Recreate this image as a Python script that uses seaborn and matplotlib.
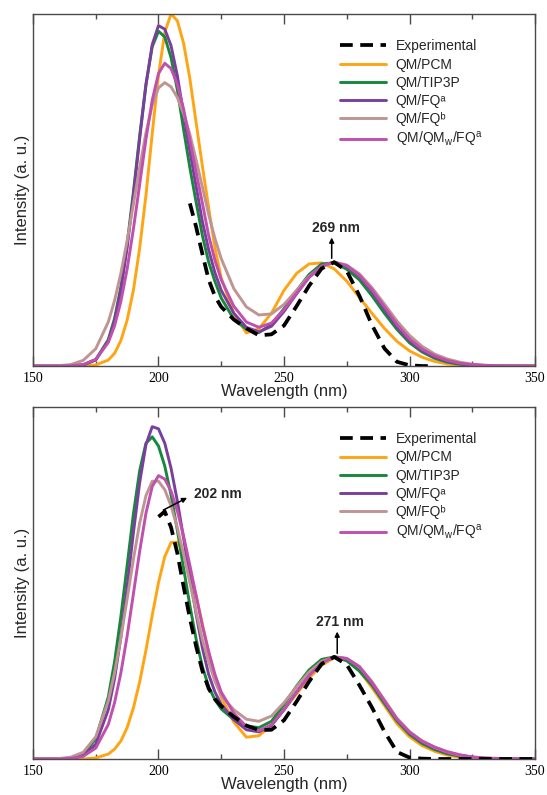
import numpy as np
import pandas as pd
import matplotlib
matplotlib.use("Agg")
import matplotlib.pyplot as plt
import seaborn as sns

# Wavelength grid (nm) shared by all spectra
wavelength = [150, 160, 165, 170, 175, 180, 182.5, 185, 187.5, 190, 192.5, 195,
              197.5, 200, 202.5, 205, 207.5, 210, 212.5, 215, 217.5, 220, 222.5,
              225, 230, 235, 240, 245, 250, 255, 260, 265, 270, 275, 280, 285,
              290, 295, 300, 305, 310, 315, 320, 325, 330, 340, 350]

nan = np.nan

# ---- upper panel ----
top_exp = [nan, nan, nan, nan, nan, nan, nan, nan, nan, nan, nan, nan,
           nan, nan, nan, nan, nan, nan, 0.462, 0.395, 0.318, 0.245, 0.198,
           0.168, 0.132, 0.107, 0.087, 0.090, 0.115, 0.170, 0.228, 0.277, 0.295, 0.270, 0.200, 0.117,
           0.050, 0.012, 0.002, 0.0, 0.0, nan, nan, nan, nan, nan, nan]
top_pcm = [0, 0, 0, 0, 0.003, 0.017, 0.036, 0.072, 0.130, 0.215, 0.335, 0.485,
           0.660, 0.826, 0.948, 1.000, 0.981, 0.917, 0.816, 0.691, 0.567, 0.449, 0.335,
           0.250, 0.150, 0.094, 0.106, 0.150, 0.215, 0.263, 0.290, 0.293, 0.276, 0.241, 0.195, 0.150,
           0.107, 0.070, 0.043, 0.025, 0.013, 0.006, 0.003, 0.001, 0, 0, 0]
top_tip3p = [0, 0, 0.0005, 0.003, 0.018, 0.075, 0.135, 0.224, 0.346, 0.494, 0.654, 0.800,
             0.907, 0.951, 0.935, 0.876, 0.785, 0.672, 0.563, 0.465, 0.370, 0.295, 0.240,
             0.193, 0.133, 0.105, 0.095, 0.118, 0.163, 0.214, 0.260, 0.290, 0.293, 0.275, 0.245, 0.200,
             0.150, 0.104, 0.066, 0.040, 0.022, 0.011, 0.005, 0.002, 0, 0, 0]
top_fqa = [0, 0, 0.0005, 0.003, 0.017, 0.071, 0.128, 0.216, 0.336, 0.484, 0.646, 0.798,
           0.913, 0.967, 0.957, 0.910, 0.825, 0.715, 0.610, 0.510, 0.410, 0.330, 0.265,
           0.215, 0.150, 0.110, 0.097, 0.113, 0.155, 0.205, 0.252, 0.284, 0.295, 0.283, 0.255, 0.212,
           0.162, 0.112, 0.072, 0.044, 0.026, 0.014, 0.007, 0.003, 0.001, 0, 0]
top_fqb = [0, 0.001, 0.004, 0.016, 0.049, 0.125, 0.186, 0.263, 0.356, 0.459, 0.564, 0.662,
           0.741, 0.790, 0.805, 0.793, 0.763, 0.717, 0.658, 0.585, 0.508, 0.430, 0.362,
           0.305, 0.220, 0.168, 0.145, 0.148, 0.175, 0.215, 0.255, 0.283, 0.295, 0.287, 0.262, 0.223,
           0.176, 0.128, 0.087, 0.056, 0.034, 0.020, 0.011, 0.005, 0.002, 0, 0]
top_qmw = [0, 0, 0.001, 0.004, 0.019, 0.067, 0.114, 0.183, 0.275, 0.389, 0.516, 0.644,
           0.755, 0.831, 0.860, 0.845, 0.800, 0.730, 0.641, 0.550, 0.462, 0.370, 0.300,
           0.245, 0.170, 0.125, 0.110, 0.122, 0.160, 0.207, 0.252, 0.284, 0.295, 0.285, 0.258, 0.217,
           0.168, 0.118, 0.077, 0.048, 0.029, 0.016, 0.008, 0.004, 0.002, 0, 0]

# ---- lower panel ----
bot_exp = [nan, nan, nan, nan, nan, nan, nan, nan, nan, nan, nan, nan,
           nan, 0.688, 0.703, 0.658, 0.585, 0.490, 0.400, 0.320, 0.250, 0.200, 0.170,
           0.150, 0.120, 0.095, 0.082, 0.083, 0.110, 0.163, 0.220, 0.270, 0.290, 0.268, 0.210, 0.147,
           0.078, 0.020, 0.004, 0.001, 0.0, 0.0, 0.0, 0.0, 0.0, 0.0, 0.0]
bot_pcm = [0, 0, 0, 0, 0.003, 0.014, 0.028, 0.051, 0.089, 0.145, 0.219, 0.309,
           0.408, 0.501, 0.575, 0.615, 0.616, 0.587, 0.534, 0.463, 0.383, 0.302, 0.235,
           0.175, 0.105, 0.062, 0.066, 0.097, 0.140, 0.185, 0.230, 0.266, 0.288, 0.283, 0.251, 0.203,
           0.152, 0.100, 0.063, 0.038, 0.022, 0.011, 0.005, 0.002, 0.001, 0, 0]
bot_tip3p = [0, 0, 0.0026, 0.014, 0.057, 0.176, 0.276, 0.404, 0.549, 0.696, 0.819, 0.897,
             0.915, 0.889, 0.832, 0.750, 0.650, 0.542, 0.436, 0.340, 0.262, 0.205, 0.168,
             0.142, 0.112, 0.094, 0.089, 0.107, 0.155, 0.207, 0.253, 0.283, 0.290, 0.279, 0.250, 0.210,
             0.158, 0.108, 0.070, 0.044, 0.027, 0.015, 0.008, 0.004, 0.001, 0, 0]
bot_fqa = [0, 0, 0.0015, 0.0095, 0.042, 0.140, 0.228, 0.346, 0.489, 0.642, 0.785, 0.893,
           0.944, 0.938, 0.897, 0.826, 0.733, 0.627, 0.517, 0.411, 0.315, 0.240, 0.190,
           0.155, 0.112, 0.083, 0.077, 0.095, 0.140, 0.190, 0.238, 0.274, 0.290, 0.285, 0.262, 0.215,
           0.163, 0.112, 0.074, 0.048, 0.031, 0.018, 0.010, 0.005, 0.002, 0, 0]
bot_fqb = [0, 0.001, 0.005, 0.019, 0.063, 0.165, 0.245, 0.343, 0.454, 0.567, 0.670, 0.748,
           0.789, 0.789, 0.765, 0.719, 0.657, 0.582, 0.501, 0.418, 0.339, 0.275, 0.220,
           0.180, 0.140, 0.113, 0.107, 0.122, 0.160, 0.205, 0.247, 0.277, 0.290, 0.286, 0.263, 0.220,
           0.168, 0.116, 0.078, 0.051, 0.033, 0.020, 0.011, 0.005, 0.002, 0, 0]
bot_qmw = [0, 0, 0.0015, 0.0075, 0.031, 0.098, 0.160, 0.244, 0.349, 0.469, 0.590, 0.698,
           0.774, 0.805, 0.795, 0.761, 0.705, 0.633, 0.550, 0.464, 0.378, 0.305, 0.240,
           0.190, 0.130, 0.092, 0.080, 0.097, 0.140, 0.190, 0.237, 0.273, 0.290, 0.285, 0.262, 0.218,
           0.165, 0.113, 0.076, 0.051, 0.034, 0.021, 0.012, 0.006, 0.003, 0.0005, 0]

labels = ["QM/PCM", "QM/TIP3P", "QM/FQ\u1d43", "QM/FQ\u1d47", r"QM/QM$_{w}$/FQ$^{a}$"]
colors = ["#ffa514", "#16883c", "#7a3f9c", "#bf9593", "#c04fae"]

sns.set_style("ticks")
plt.rcParams["font.family"] = ["Liberation Sans", "DejaVu Sans"]
plt.rcParams["mathtext.fontset"] = "custom"
plt.rcParams["mathtext.rm"] = "Liberation Sans"
plt.rcParams["mathtext.it"] = "Liberation Sans:italic"
plt.rcParams["mathtext.default"] = "rm"

fig = plt.figure(figsize=(5.47, 7.95), dpi=100)
ax_top = fig.add_axes([0.0603, 0.5396, 0.9178, 0.4428])
ax_bot = fig.add_axes([0.0603, 0.0453, 0.9178, 0.4428])

frame_color = "#4a4a4a"


def draw_panel(ax, exp_vals, calc_sets, notes):
    exp_df = pd.DataFrame({"wl": wavelength, "I": exp_vals}).dropna()
    sns.lineplot(data=exp_df, x="wl", y="I", ax=ax, color="black", lw=2.7,
                 linestyle=(0, (3.4, 2.0)), label="Experimental", legend=False,
                 errorbar=None, zorder=4)
    for vals, lab, col in zip(calc_sets, labels, colors):
        df = pd.DataFrame({"wl": wavelength, "I": vals})
        sns.lineplot(data=df, x="wl", y="I", ax=ax, color=col, lw=2.1,
                     label=lab, legend=False, errorbar=None)

    ax.set_xlim(150, 350)
    ax.set_ylim(0, 1.0)
    ax.set_xticks([150, 200, 250, 300, 350])
    ax.set_xticks([175, 225, 275, 325], minor=True)
    ax.set_yticks([])
    ax.tick_params(axis="x", which="both", direction="in", top=True, bottom=True,
                   colors=frame_color, width=1.0, pad=4.5,
                   labelsize=10, labelcolor="black",
                   labelfontfamily="Liberation Serif")
    ax.tick_params(axis="x", which="major", length=7)
    ax.tick_params(axis="x", which="minor", length=3.6)
    for sp in ax.spines.values():
        sp.set_visible(True)
        sp.set_color(frame_color)
        sp.set_linewidth(1.0)
    ax.set_xlabel("Wavelength (nm)", fontsize=12, labelpad=-1)
    ax.set_ylabel("Intensity (a. u.)", fontsize=12, labelpad=2)

    ax.legend(loc="upper left", bbox_to_anchor=(0.612, 0.928), frameon=False,
              fontsize=10, handlelength=3.3, handletextpad=0.7,
              labelspacing=0.3, borderaxespad=0, borderpad=0)

    for text, tx, ty, ax0, ay0, ax1, ay1, ha in notes:
        ax.annotate("", xy=(ax1, ay1), xytext=(ax0, ay0),
                    arrowprops=dict(arrowstyle="-|>", color="black", lw=1.1,
                                    mutation_scale=7, shrinkA=0, shrinkB=0))
        ax.text(tx, ty, text, fontsize=10, fontweight="bold", ha=ha, va="center")


draw_panel(ax_top, top_exp, [top_pcm, top_tip3p, top_fqa, top_fqb, top_qmw],
           [("269 nm", 270.6, 0.391, 269.0, 0.306, 269.0, 0.365, "center")])
draw_panel(ax_bot, bot_exp, [bot_pcm, bot_tip3p, bot_fqa, bot_fqb, bot_qmw],
           [("271 nm", 272.3, 0.39, 271.2, 0.30, 271.2, 0.362, "center"),
            ("202 nm", 214.0, 0.752, 201.9, 0.707, 211.4, 0.742, "left")])

fig.savefig("out.png", dpi=100)
